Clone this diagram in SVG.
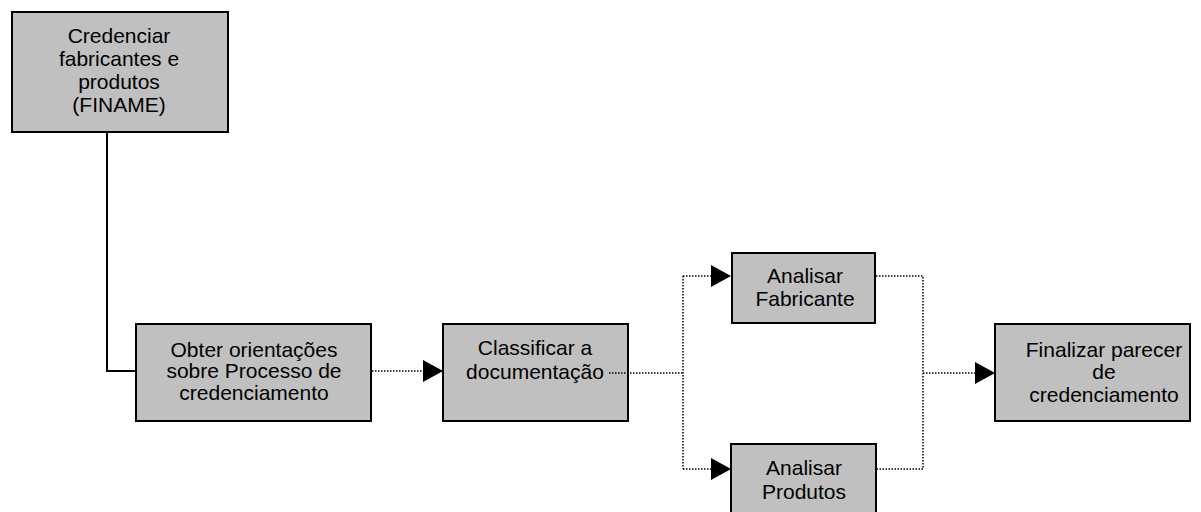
<svg xmlns="http://www.w3.org/2000/svg" width="1201" height="512" viewBox="0 0 1201 512">
<defs>
<style>
.box{fill:#C0C0C0;stroke:#000;stroke-width:2}
.t{font-family:"Liberation Sans",Arial,sans-serif;font-size:21px;fill:#000;text-anchor:middle}
.solid{fill:none;stroke:#000;stroke-width:2}
.dot{fill:none;stroke:#000;stroke-width:1.5;stroke-dasharray:1.5 1.5}
</style>
<marker id="arrb" viewBox="0 0 20 22" refX="20" refY="11" markerWidth="20" markerHeight="22" markerUnits="userSpaceOnUse" orient="auto">
<path d="M0,0 L20,11 L0,22 Z" fill="#000"/>
</marker>
</defs>
<g id="n1">
<rect class="box" x="12" y="12" width="216" height="120"/>
<text class="t" x="119" y="43">Credenciar</text>
<text class="t" x="119" y="66">fabricantes e</text>
<text class="t" x="119" y="89">produtos</text>
<text class="t" x="119" y="112">(FINAME)</text>
</g>
<g id="n2">
<rect class="box" x="136" y="324" width="235" height="97"/>
<text class="t" x="254" y="357">Obter orientações</text>
<text class="t" x="254" y="378">sobre Processo de</text>
<text class="t" x="254" y="400">credenciamento</text>
</g>
<g id="n3">
<rect class="box" x="443" y="324" width="185" height="97"/>
<text class="t" x="535" y="355">Classificar a</text>
<text class="t" x="535" y="379">documentação</text>
</g>
<g id="n4">
<rect class="box" x="732" y="253" width="143" height="70"/>
<text class="t" x="805" y="283">Analisar</text>
<text class="t" x="805" y="306">Fabricante</text>
</g>
<g id="n5">
<rect class="box" x="731" y="444" width="145" height="72"/>
<text class="t" x="804" y="475">Analisar</text>
<text class="t" x="804" y="499">Produtos</text>
</g>
<g id="n6">
<rect class="box" x="995" y="324" width="195" height="97"/>
<text class="t" x="1104" y="357">Finalizar parecer</text>
<text class="t" x="1104" y="379">de</text>
<text class="t" x="1104" y="402">credenciamento</text>
</g>
<g id="connectors">
<path class="solid" d="M107,133 V371 H135"/>
<path class="dot" d="M372,371 H443" marker-end="url(#arrb)"/>
<path class="dot" d="M609,373 H683"/>
<path class="dot" d="M683,276 V469"/>
<path class="dot" d="M683,276 H731" marker-end="url(#arrb)"/>
<path class="dot" d="M683,469 H731" marker-end="url(#arrb)"/>
<path class="dot" d="M876,276 H923 V469 H877"/>
<path class="dot" d="M923,373 H995" marker-end="url(#arrb)"/>
</g>
</svg>
